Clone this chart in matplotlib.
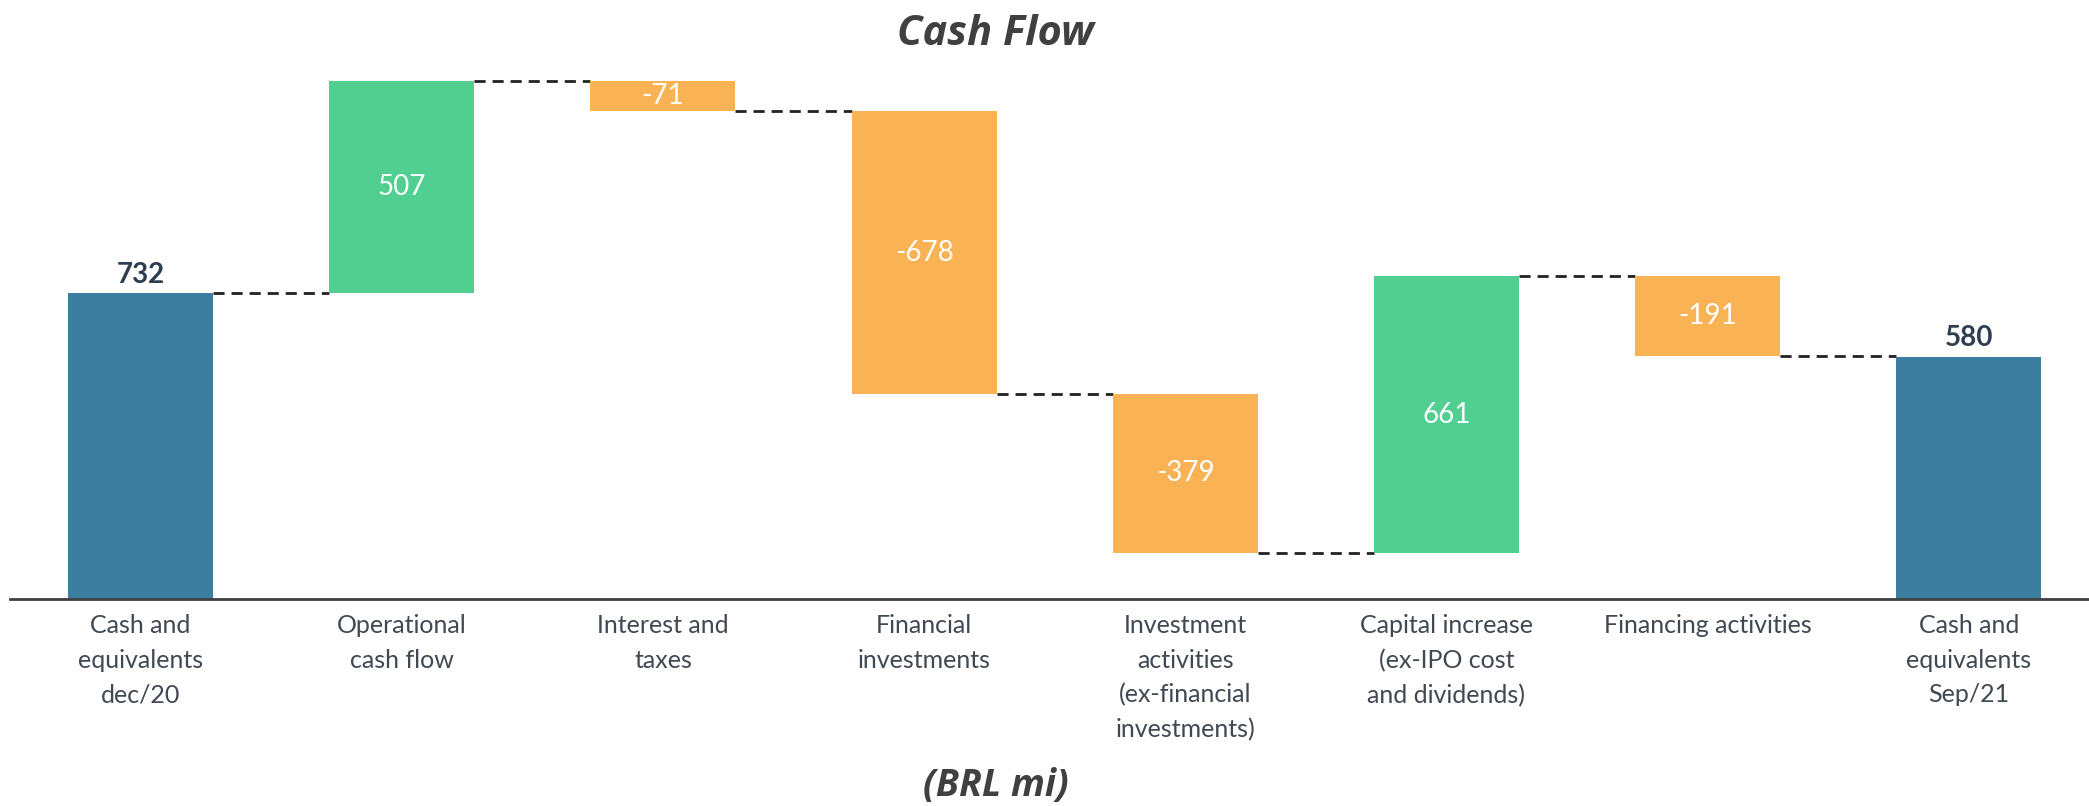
import matplotlib
matplotlib.use("Agg")
import matplotlib.pyplot as plt
import numpy as np

categories = ["Cash and\nequivalents\ndec/20", "Operational\ncash flow", "Interest and\ntaxes",
              "Financial\ninvestments", "Investment\nactivities\n(ex-financial\ninvestments)",
              "Capital increase\n(ex-IPO cost\nand dividends)", "Financing activities",
              "Cash and\nequivalents\nSep/21"]
values = [732, 507, -71, -678, -379, 661, -191, 580]
is_total = [True, False, False, False, False, False, False, True]

C_TOTAL = "#3D7EA0"
C_UP = "#50CF91"
C_DOWN = "#F9B354"

fig = plt.figure(figsize=(20.89, 8.06), dpi=100)
ax = fig.add_axes([10/2089, (806-599)/806, 1-10/2089, (599-60)/806])

x = np.arange(len(values))
bottoms, heights, colors = [], [], []
running = 0
levels = []
for v, t in zip(values, is_total):
    if t:
        bottoms.append(0); heights.append(v); colors.append(C_TOTAL)
        running = v
    else:
        if v >= 0:
            bottoms.append(running); heights.append(v); colors.append(C_UP)
        else:
            bottoms.append(running + v); heights.append(-v); colors.append(C_DOWN)
        running += v
    levels.append(running)

width = 0.555
ax.bar(x, heights, bottom=bottoms, width=width, color=colors, edgecolor="none", zorder=2)

# connectors
for i in range(len(values) - 1):
    ax.plot([x[i] + width/2, x[i+1] - width/2], [levels[i], levels[i]],
            color="#222222", lw=2, dashes=(4, 2.5), zorder=1)

# value labels
for i, (v, t) in enumerate(zip(values, is_total)):
    if t:
        ax.text(x[i], heights[i] + 13, f"{v}", ha="center", va="bottom",
                fontsize=20, fontweight="bold", color="#2E3D50", family="Lato")
    else:
        ax.text(x[i], bottoms[i] + heights[i]/2, f"{v}", ha="center", va="center",
                fontsize=20, color="white", family="Lato")

ax.set_xlim(-0.5, 7.46)
ax.set_ylim(0, 1290)
for s in ["top", "right", "left"]:
    ax.spines[s].set_visible(False)
ax.spines["bottom"].set_color("#404040")
ax.spines["bottom"].set_linewidth(2)
ax.set_yticks([])
ax.set_xticks(x)
ax.set_xticklabels(categories, fontsize=18, color="#404852", family="Lato", linespacing=1.6)
ax.tick_params(axis="x", length=0, pad=11)

fig.text(995/2089, 1 - 45/806, "Cash Flow", ha="center", va="baseline", fontsize=30,
         fontweight="bold", style="italic", color="#404040", family="Open Sans")
fig.text(996/2089, 1 - 796/806, "(BRL mi)", ha="center", va="baseline", fontsize=27,
         fontweight="bold", style="italic", color="#404040", family="Open Sans")

fig.savefig("out.png", dpi=100)
